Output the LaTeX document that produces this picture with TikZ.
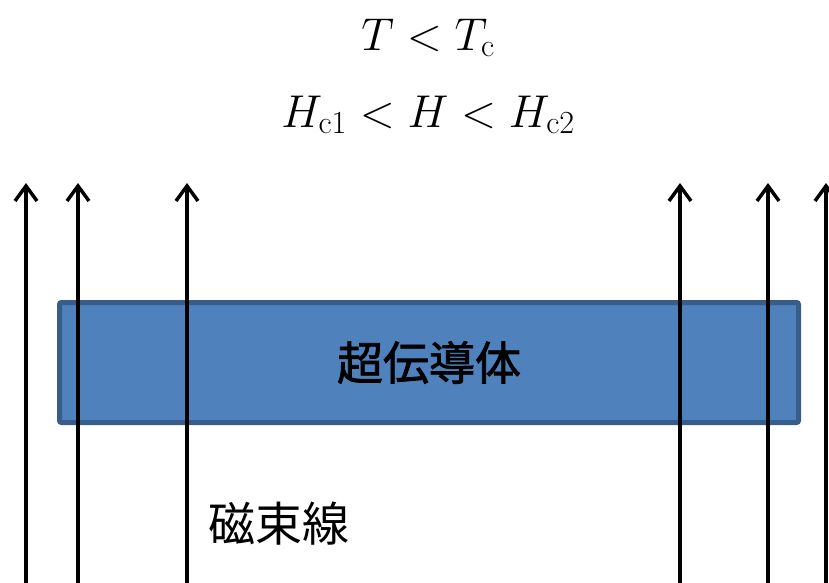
\RequirePackage{fix-cm}
\documentclass[tikz,border=0pt]{standalone}
\usepackage{fontspec}
\newfontfamily\cjk{Noto Sans CJK JP}
\newfontfamily\cjkb[FakeBold=1.6]{Noto Sans CJK JP}
\usetikzlibrary{arrows.meta}
\definecolor{scfill}{HTML}{4F81BD}
\definecolor{scedge}{HTML}{385D8A}
\begin{document}
\begin{tikzpicture}[x=1pt,y=-1pt,
  flux/.style={line width=3.5pt, -{Straight Barb[length=15pt,width=22pt,line width=3.5pt]}},
  scbox/.style={draw=scedge, fill=scfill, line width=5pt, minimum width=739pt, minimum height=120pt, rounded corners=2pt, inner sep=0pt, font=\fontsize{46}{52}\selectfont\cjkb},
  mathlbl/.style={anchor=base, inner sep=0pt, font=\fontsize{46}{52}\selectfont},
  jplbl/.style={inner sep=0pt, font=\fontsize{47}{54}\selectfont\cjk}]
\useasboundingbox (0,0) rectangle (829,582);
\fill[white] (0,0) rectangle (829,582);
\node[scbox] (sc) at (429,362.5) {超伝導体};
\node[mathlbl] (cond1) at (428,50) {$T<T_{\mathrm{c}}$};
\node[mathlbl] (cond2) at (428,127) {$H_{\mathrm{c}1}<H<H_{\mathrm{c}2}$};
\node[jplbl] (lbl) at (279,524) {磁束線};
\foreach \i/\x in {1/26,2/78,3/187,4/680,5/768,6/826}{
  \coordinate (b\i) at (\x,584);
  \coordinate (t\i) at (\x,183);
  \draw[flux] (b\i) -- (t\i);
}
\end{tikzpicture}
\end{document}
